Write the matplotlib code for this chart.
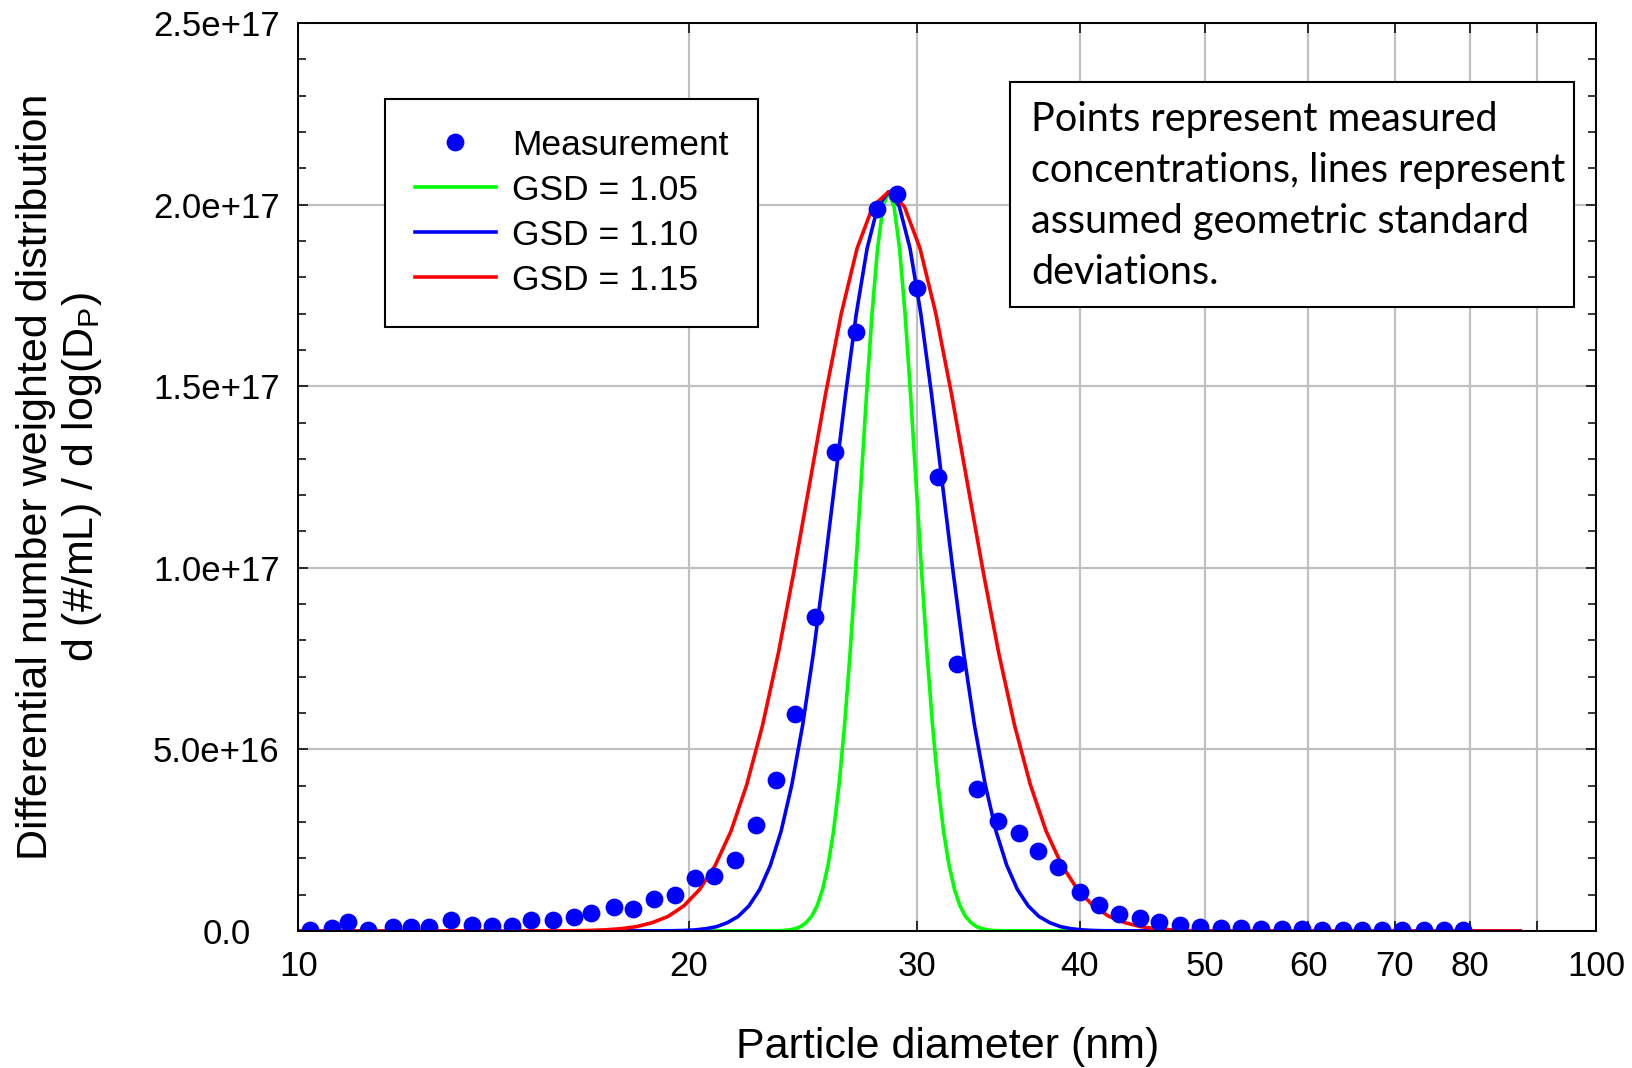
import matplotlib
matplotlib.use('Agg')
import matplotlib.pyplot as plt
from matplotlib.patches import Rectangle
from matplotlib.ticker import NullLocator
from matplotlib.transforms import ScaledTranslation

plt.rcParams['font.family'] = ['Liberation Sans', 'DejaVu Sans']
plt.rcParams['mathtext.fontset'] = 'custom'
plt.rcParams['mathtext.rm'] = 'Liberation Sans'
plt.rcParams['mathtext.it'] = 'Liberation Sans:italic'

SCALE = 1e16  # values below are in units of 1e16

# Measured points
meas_x = [10.21, 10.61, 10.92, 11.31, 11.82, 12.21, 12.61, 13.11, 13.61, 14.11,
          14.61, 15.11, 15.71, 16.31, 16.81, 17.52, 18.10, 18.81, 19.51,
          20.22, 20.90, 21.71, 22.52, 23.33, 24.12, 25.02, 25.93, 26.89, 27.92,
          28.93, 29.99, 31.10, 32.17, 33.37, 34.60, 35.91, 37.18, 38.48, 40.00,
          41.41, 42.91, 44.49, 46.09, 47.79, 49.57, 51.40, 53.28, 55.21, 57.27,
          59.39, 61.50, 63.83, 66.01, 68.46, 70.93, 73.67, 76.33, 79.03]
meas_y = [0.03, 0.07, 0.24, 0.03, 0.10, 0.10, 0.10, 0.30, 0.17, 0.15,
          0.15, 0.30, 0.30, 0.38, 0.49, 0.67, 0.61, 0.87, 0.99,
          1.47, 1.51, 1.95, 2.92, 4.16, 5.97, 8.65, 13.19, 16.50, 19.89,
          20.30, 17.71, 12.49, 7.35, 3.90, 3.03, 2.69, 2.21, 1.77, 1.07,
          0.72, 0.46, 0.35, 0.26, 0.17, 0.12, 0.09, 0.07, 0.06, 0.055,
          0.055, 0.036, 0.028, 0.028, 0.028, 0.02, 0.02, 0.02, 0.02]

# GSD = 1.05 line
gsd105_x = [10.0, 23.447, 23.677, 23.909, 24.144, 24.380, 24.619, 24.861, 25.105, 25.351,
            25.599, 25.850, 26.104, 26.360, 26.618, 26.879, 27.143, 27.409, 27.678,
            27.949, 28.223, 28.5, 28.779, 29.062, 29.347, 29.634, 29.925, 30.218,
            30.515, 30.814, 31.116, 31.421, 31.729, 32.041, 32.355, 32.672, 32.992,
            33.316, 33.643, 33.972, 34.306, 34.642, 87.4]
gsd105_y = [0.0, 0.007, 0.015, 0.031, 0.063, 0.12, 0.23, 0.40, 0.69, 1.14, 1.81, 2.75,
            4.03, 5.66, 7.64, 9.91, 12.34, 14.78, 17.00, 18.79, 19.95, 20.35,
            19.95, 18.79, 17.00, 14.78, 12.34, 9.91, 7.64, 5.66, 4.03, 2.75, 1.81,
            1.14, 0.69, 0.40, 0.23, 0.12, 0.063, 0.031, 0.015, 0.007, 0.0]

# GSD = 1.10 line
gsd110_x = [10.0, 19.466, 19.841, 20.222, 20.612, 21.008, 21.412, 21.824, 22.245, 22.673,
            23.109, 23.554, 24.007, 24.469, 24.940, 25.420, 25.909, 26.408, 26.916,
            27.434, 27.962, 28.5, 29.048, 29.608, 30.177, 30.758, 31.350, 31.953,
            32.568, 33.195, 33.834, 34.485, 35.149, 35.825, 36.515, 37.217, 37.934,
            38.664, 39.408, 40.166, 40.939, 41.727, 87.4]
gsd110_y = [0.0, 0.007, 0.015, 0.031, 0.063, 0.12, 0.23, 0.40, 0.69, 1.14, 1.81, 2.75,
            4.03, 5.66, 7.64, 9.91, 12.34, 14.78, 17.00, 18.79, 19.95, 20.35,
            19.95, 18.79, 17.00, 14.78, 12.34, 9.91, 7.64, 5.66, 4.03, 2.75, 1.81,
            1.14, 0.69, 0.40, 0.23, 0.12, 0.063, 0.031, 0.015, 0.007, 0.0]

# GSD = 1.15 line
gsd115_x = [10.0, 16.295, 16.757, 17.232, 17.720, 18.223, 18.739, 19.270, 19.817, 20.378,
            20.956, 21.550, 22.161, 22.789, 23.435, 24.099, 24.783, 25.485, 26.208,
            26.950, 27.714, 28.5, 29.308, 30.139, 30.993, 31.871, 32.775, 33.704,
            34.659, 35.642, 36.652, 37.691, 38.760, 39.858, 40.988, 42.150, 43.345,
            44.574, 45.837, 47.136, 48.473, 49.847, 87.4]
gsd115_y = [0.0, 0.007, 0.015, 0.031, 0.063, 0.12, 0.23, 0.40, 0.69, 1.14, 1.81, 2.75,
            4.03, 5.66, 7.64, 9.91, 12.34, 14.78, 17.00, 18.79, 19.95, 20.35,
            19.95, 18.79, 17.00, 14.78, 12.34, 9.91, 7.64, 5.66, 4.03, 2.75, 1.81,
            1.14, 0.69, 0.40, 0.23, 0.12, 0.063, 0.031, 0.015, 0.007, 0.0]

x_ticks = [10, 20, 30, 40, 50, 60, 70, 80, 90, 100]
x_tick_labels = ['10', '20', '30', '40', '50', '60', '70', '80', '', '100']
y_ticks = [0, 5e16, 1e17, 1.5e17, 2e17, 2.5e17]
y_tick_labels = ['0.0', '5.0e+16', '1.0e+17', '1.5e+17', '2.0e+17', '2.5e+17']
y_minor = [k * 1e16 for k in range(26)]

legend_labels = ['Measurement', 'GSD = 1.05', 'GSD = 1.10', 'GSD = 1.15']
note_lines = ['Points represent measured',
              'concentrations, lines represent',
              'assumed geometric standard',
              'deviations.']

W, H = 1633, 1068
fig = plt.figure(figsize=(W / 100, H / 100), dpi=100)
ax = fig.add_axes([298.3 / W, 1 - 931 / H, (1596 - 298.3) / W, (931 - 23) / H])

LW = 2.6
lg, = ax.plot(gsd105_x, [v * SCALE for v in gsd105_y], color='#00ff00', lw=LW,
              label=legend_labels[1], zorder=3)
lb, = ax.plot(gsd110_x, [v * SCALE for v in gsd110_y], color='#0000ff', lw=LW,
              label=legend_labels[2], zorder=3.1)
lr, = ax.plot(gsd115_x, [v * SCALE for v in gsd115_y], color='#ff0000', lw=LW,
              label=legend_labels[3], zorder=3.2)
lm, = ax.plot(meas_x, [v * SCALE for v in meas_y], 'o', color='#0000ff', ms=11.8,
              ls='none', label=legend_labels[0], zorder=5)

ax.set_xscale('log')
ax.set_xlim(10, 100)
ax.set_ylim(0, 2.5e17)
ax.set_xticks(x_ticks)
ax.set_xticklabels(x_tick_labels, fontsize=25)
ax.xaxis.set_minor_locator(NullLocator())
ax.set_yticks(y_ticks)
ax.set_yticklabels(y_tick_labels, fontsize=25)
ax.set_yticks(y_minor, minor=True)

ax.grid(True, which='major', color='#c0c0c0', lw=1.6)
ax.set_axisbelow(True)
for sp in ax.spines.values():
    sp.set_linewidth(1.4)
    sp.set_zorder(6)

ax.tick_params(which='both', direction='in', top=True, right=True, width=1.1)
ax.tick_params(which='major', length=7.2)
ax.tick_params(which='minor', length=5.8)
ax.tick_params(axis='x', pad=13.5)
ax.tick_params(axis='y', which='major', pad=59)
for lab in ax.get_yticklabels():
    lab.set_horizontalalignment('center')
zero_lab = ax.get_yticklabels()[0]
zero_lab.set_transform(zero_lab.get_transform() + ScaledTranslation(10 / 100, 0, fig.dpi_scale_trans))

ax.set_xlabel('Particle diameter (nm)', fontsize=31)
ax.xaxis.set_label_coords(0.5, -(1058 - 931) / (931 - 23), transform=ax.transAxes)
ax.xaxis.label.set_verticalalignment('baseline')

fig.text(60 / W, 1 - 477 / H,
         'Differential number weighted distribution\nd (#/mL) / d log(D$_{\\mathrm{P}}$)',
         rotation=90, ha='center', va='center', multialignment='center',
         fontsize=31, linespacing=1.1)

leg = ax.legend(handles=[lm, lg, lb, lr], loc='upper left',
                bbox_to_anchor=(385 / W, 1 - 99 / H), bbox_transform=fig.transFigure,
                borderaxespad=0, fancybox=False, edgecolor='black', framealpha=1,
                fontsize=25.5, handlelength=2.3, handletextpad=0.45, labelspacing=0.34,
                borderpad=0.84, numpoints=1)
leg.get_frame().set_linewidth(1.5)
leg.set_zorder(7)

rect = Rectangle((1009.6 / W, 1 - 306.7 / H), (1574 - 1009.6) / W, (306.7 - 81.7) / H,
                 transform=fig.transFigure, facecolor='white', edgecolor='black',
                 lw=1.5, zorder=8)
fig.add_artist(rect)
baselines = [131, 182, 233, 284]
for line, b in zip(note_lines, baselines):
    fig.text(1030.8 / W, 1 - b / H, line, family=['Lato', 'DejaVu Sans'], fontsize=28.5,
             ha='left', va='baseline', zorder=9)

fig.savefig('out.png', dpi=100)
